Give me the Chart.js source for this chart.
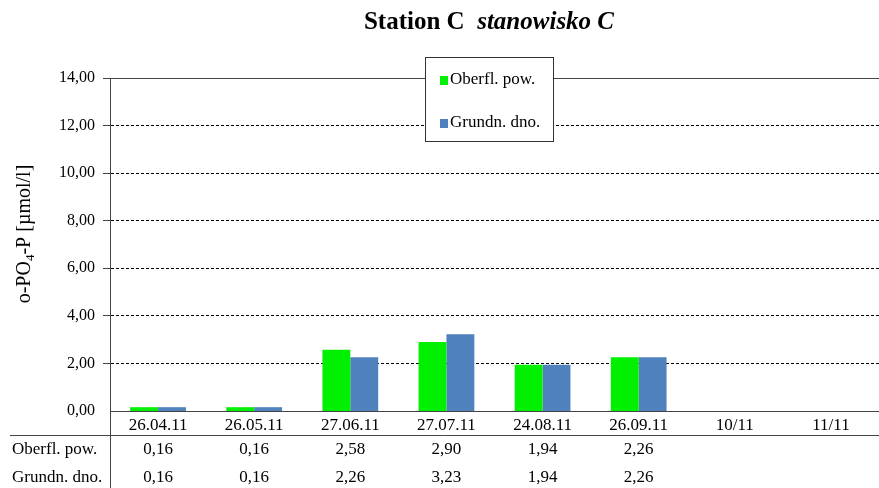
<!DOCTYPE html>
<html>
<head>
<meta charset="utf-8">
<script src="https://cdn.jsdelivr.net/npm/chart.js@4.4.0/dist/chart.umd.min.js"></script>
<style>
  body { margin: 0; background: #fff; }
</style>
</head>
<body>
<canvas id="stationChart" width="879" height="488"></canvas>
<script>
const labels = ['26.04.11', '26.05.11', '27.06.11', '27.07.11', '24.08.11', '26.09.11', '10/11', '11/11'];
const surface = [0.16, 0.16, 2.58, 2.90, 1.94, 2.26, null, null];
const bottom = [0.16, 0.16, 2.26, 3.23, 1.94, 2.26, null, null];
const yTicks = [0, 2, 4, 6, 8, 10, 12, 14];

const serif = '"Liberation Serif", "Times New Roman", serif';
const fmt = v => v.toFixed(2).replace('.', ',');

// title, y-axis title, legend box and data table
const extras = {
  id: 'extras',
  afterDraw(chart) {
    const ctx = chart.ctx;
    const x = chart.scales.x;
    const area = chart.chartArea;
    ctx.save();
    ctx.fillStyle = '#000';
    ctx.textBaseline = 'middle';

    // solid top border of the plot
    ctx.strokeStyle = '#444';
    ctx.lineWidth = 1;
    ctx.beginPath();
    ctx.moveTo(area.left, area.top + 0.5);
    ctx.lineTo(area.right, area.top + 0.5);
    ctx.stroke();

    // title
    const t1 = 'Station C  ', t2 = 'stanowisko C';
    ctx.font = 'bold 25px ' + serif;
    const w1 = ctx.measureText(t1).width;
    ctx.font = 'italic bold 25px ' + serif;
    const w2 = ctx.measureText(t2).width;
    let tx = 489 - (w1 + w2) / 2;
    ctx.textAlign = 'left';
    ctx.font = 'bold 25px ' + serif;
    ctx.fillText(t1, tx, 23);
    ctx.font = 'italic bold 25px ' + serif;
    ctx.fillText(t2, tx + w1, 23);

    // y axis title
    ctx.save();
    ctx.translate(25, 234);
    ctx.rotate(-Math.PI / 2);
    ctx.font = '20px ' + serif;
    const a = 'o-PO', sub = '4', b = '-P [µmol/l]';
    const wa = ctx.measureText(a).width, wb = ctx.measureText(b).width;
    ctx.font = '13px ' + serif;
    const ws = ctx.measureText(sub).width;
    let sx = -(wa + ws + wb) / 2;
    ctx.font = '20px ' + serif;
    ctx.fillText(a, sx, 0);
    ctx.font = '13px ' + serif;
    ctx.fillText(sub, sx + wa, 6);
    ctx.font = '20px ' + serif;
    ctx.fillText(b, sx + wa + ws, 0);
    ctx.restore();

    // legend box
    ctx.fillStyle = '#fff';
    ctx.fillRect(425, 57, 128, 84);
    ctx.strokeStyle = '#333';
    ctx.strokeRect(425.5, 57.5, 128, 84);
    ctx.font = '17px ' + serif;
    chart.data.datasets.forEach((ds, i) => {
      const ly = 80 + i * 43;
      ctx.fillStyle = ds.backgroundColor;
      ctx.fillRect(440, ly - 4, 8, 9);
      ctx.fillStyle = '#000';
      ctx.fillText(ds.label, 450, ly);
    });

    // data table
    ctx.strokeStyle = '#444';
    ctx.beginPath();
    ctx.moveTo(10, 435.5);
    ctx.lineTo(chart.width, 435.5);
    ctx.moveTo(area.left + 0.5, area.bottom);
    ctx.lineTo(area.left + 0.5, chart.height);
    ctx.stroke();
    ctx.font = '17px ' + serif;
    const rows = [[chart.data.datasets[0].label, surface], [chart.data.datasets[1].label, bottom]];
    rows.forEach(([name, vals], r) => {
      const ry = 450 + r * 28;
      ctx.textAlign = 'left';
      ctx.fillText(name, 12, ry);
      ctx.textAlign = 'center';
      vals.forEach((v, i) => {
        if (v !== null) ctx.fillText(fmt(v), x.getPixelForValue(i), ry);
      });
    });
    ctx.restore();
  }
};

new Chart(document.getElementById('stationChart'), {
  type: 'bar',
  data: {
    labels: labels,
    datasets: [
      { label: 'Oberfl. pow.', data: surface, backgroundColor: '#00f000' },
      { label: 'Grundn. dno.', data: bottom, backgroundColor: '#4f81bd' }
    ]
  },
  options: {
    responsive: false,
    animation: false,
    devicePixelRatio: 1,
    layout: { padding: { top: 78, right: 0, left: 0, bottom: 0 } },
    datasets: { bar: { categoryPercentage: 0.58, barPercentage: 1.0 } },
    plugins: { legend: { display: false }, title: { display: false }, tooltip: { enabled: false } },
    scales: {
      x: {
        grid: { display: false, drawTicks: false },
        border: { display: true, color: '#444', width: 1 },
        ticks: { color: '#000', padding: 4, maxRotation: 0, autoSkip: false, font: { family: serif, size: 17 } },
        afterFit(s) { s.height = 77; }
      },
      y: {
        min: 0,
        max: 14,
        afterBuildTicks(s) { s.ticks = yTicks.map(v => ({ value: v })); },
        grid: {
          color: '#000',
          tickColor: '#444',
          tickLength: 7,
          lineWidth: c => (c.tick && c.tick.value === 0) ? 0 : 1
        },
        border: { display: true, color: '#444', width: 1, dash: [3, 2] },
        ticks: {
          color: '#000', padding: 8,
          font: { family: serif, size: 16 },
          callback: v => fmt(v)
        },
        afterFit(s) { s.width = 110; }
      }
    }
  },
  plugins: [extras]
});
</script>
</body>
</html>
